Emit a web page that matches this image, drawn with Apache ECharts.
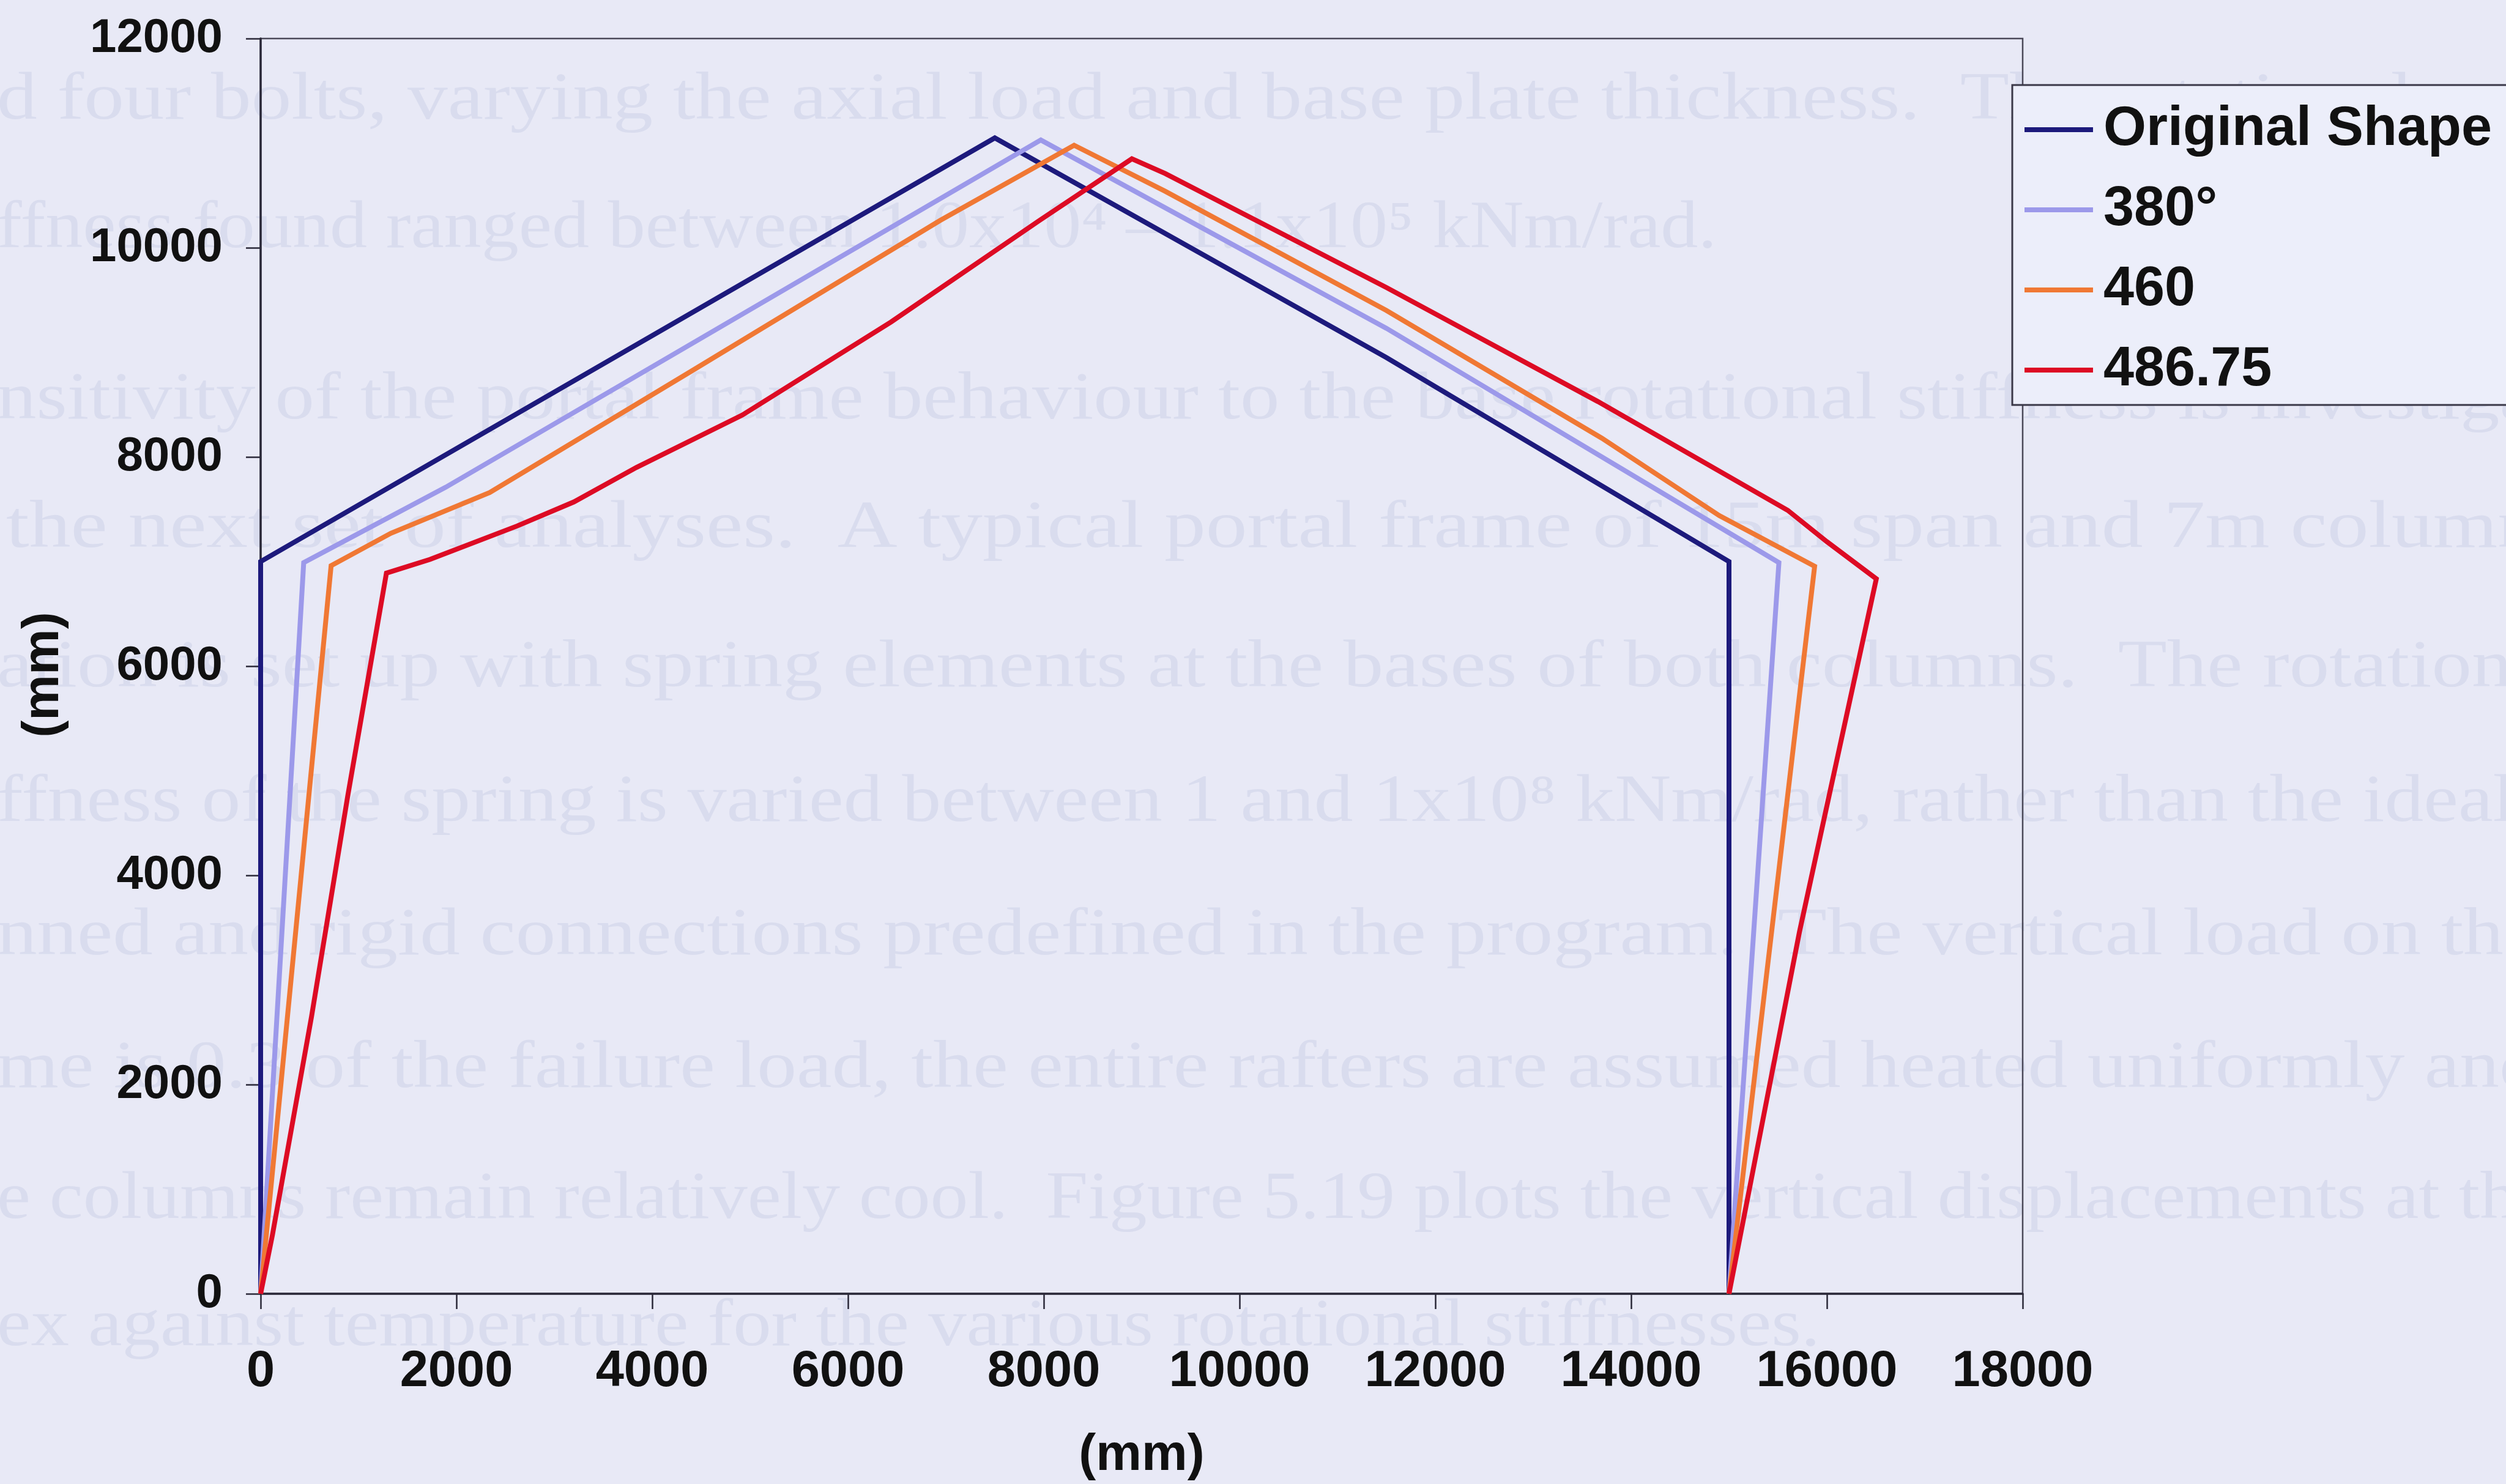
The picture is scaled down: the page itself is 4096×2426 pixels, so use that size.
<!DOCTYPE html>
<html>
<head>
<meta charset="utf-8">
<script src="https://cdn.jsdelivr.net/npm/echarts@6/dist/echarts.min.js"></script>
<style>
  html, body { margin: 0; padding: 0; background: #e8e9f6; }
  #chart { width: 4096px; height: 2426px; }
</style>
</head>
<body>
<div id="chart"></div>
<script>
// Portal frame outlines (x, y in mm): undeformed frame and deflected shapes at three rafter temperatures
const seriesNames = ['Original Shape', '380°', '460', '486.75'];
const seriesColors = ['#1d1a7c', '#9c99ea', '#f07834', '#dd0b24'];

const originalShape = [[0, 0], [0, 7000], [7500, 11050], [11500, 8950], [15000, 7000], [15000, 0]];
const shape380 = [[0, 0], [440, 6990], [1890, 7710], [7970, 11030], [11500, 9230], [15510, 6990], [15000, 0]];
const shape460 = [[0, 0], [720, 6960], [1330, 7270], [2340, 7660], [4400, 8820], [6940, 10260], [8310, 10980],
  [9240, 10540], [11500, 9400], [13700, 8180], [14900, 7440], [15875, 6955], [15000, 0]];
const shape486 = [[0, 0], [120, 560], [520, 2650], [890, 4760], [1285, 6890], [1730, 7020], [2620, 7340],
  [3200, 7570], [3840, 7900], [4920, 8400], [6440, 9290], [7955, 10260], [8900, 10850], [9240, 10710],
  [11500, 9620], [13660, 8530], [15600, 7490], [16000, 7190], [16505, 6835], [15720, 3460], [15000, 0]];
const seriesData = [originalShape, shape380, shape460, shape486];

// Axis ranges and tick spacing
const xRange = [0, 18000];
const yRange = [0, 12000];
const tickStep = 2000;
const axisNameX = '(mm)';
const axisNameY = '(mm)';

// Page text showing through behind the figure
const pageText = [
  'd four bolts, varying the axial load and base plate thickness.  The rotational',
  'ffness found ranged between 1.0x10\u2074 \u2013 1.1x10\u2075 kNm/rad.',
  'nsitivity of the portal frame behaviour to the base rotational stiffness is investigated',
  'the next set of analyses.  A typical portal frame of 15m span and 7m column',
  'ation is set up with spring elements at the bases of both columns.  The rotational',
  'ffness of the spring is varied between 1 and 1x10\u2078 kNm/rad, rather than the ideal',
  'nned and rigid connections predefined in the program.  The vertical load on the',
  'me is 0.3 of the failure load, the entire rafters are assumed heated uniformly and',
  'e columns remain relatively cool.  Figure 5.19 plots the vertical displacements at the',
  'ex against temperature for the various rotational stiffnesses.'
];
// [left, right, bottom of text box] of each page line, in px
const pageTextLayout = [
  [-5, 3944, 220], [-5, 2806, 430], [-5, 4300, 710], [10, 4150, 920], [-5, 4200, 1148],
  [-5, 4110, 1368], [-5, 4150, 1586], [-5, 4150, 1803], [-5, 4170, 2017], [-5, 2975, 2225]
];

const pageFontSize = 110;
const pageFont = pageFontSize + 'px "Liberation Serif"';
const measureCtx = document.createElement('canvas').getContext('2d');
measureCtx.font = pageFont;

const pageTextGraphics = pageText.map((t, i) => {
  const [x0, x1, bottom] = pageTextLayout[i];
  const w = measureCtx.measureText(t).width;
  return {
    type: 'text',
    x: x0,
    y: bottom,
    scaleX: (x1 - x0) / w,
    z: -10,
    silent: true,
    style: {
      text: t,
      fontFamily: 'Liberation Serif',
      fontSize: pageFontSize,
      fill: '#d9dcee',
      verticalAlign: 'bottom',
      shadowBlur: 10,
      shadowColor: '#d9dcee'
    }
  };
});

const labelFont = { fontFamily: 'Liberation Sans', fontWeight: 'bold', color: '#111111' };

const chart = echarts.init(document.getElementById('chart'), null, { renderer: 'canvas' });

chart.setOption({
  backgroundColor: '#e8e9f6',
  animation: false,
  graphic: pageTextGraphics,
  grid: {
    left: 426, top: 63, right: 790, bottom: 311,
    show: true,
    borderColor: '#4a4858',
    borderWidth: 2.5,
    backgroundColor: 'transparent',
    outerBoundsMode: 'none'
  },
  legend: {
    orient: 'vertical',
    left: 3289,
    top: 139,
    padding: [28, 40, 12, 20],
    itemGap: 41,
    itemWidth: 112,
    itemHeight: 8,
    icon: 'rect',
    backgroundColor: '#eceefa',
    borderColor: '#3a3848',
    borderWidth: 3,
    textStyle: Object.assign({ fontSize: 90, padding: [0, 0, 0, 12] }, labelFont),
    data: seriesNames
  },
  xAxis: {
    type: 'value',
    min: xRange[0], max: xRange[1], interval: tickStep,
    name: axisNameX,
    nameLocation: 'middle',
    nameGap: 223,
    nameTextStyle: Object.assign({ fontSize: 84 }, labelFont),
    axisLine: { show: true, onZero: false, lineStyle: { color: '#2a2838', width: 3.5 } },
    axisTick: { show: true, inside: false, length: 25, lineStyle: { color: '#2a2838', width: 2.5 } },
    axisLabel: Object.assign({ fontSize: 83, margin: 87, formatter: v => String(v) }, labelFont),
    splitLine: { show: false }
  },
  yAxis: {
    type: 'value',
    min: yRange[0], max: yRange[1], interval: tickStep,
    name: axisNameY,
    nameLocation: 'middle',
    nameRotate: 90,
    nameGap: 312,
    nameTextStyle: Object.assign({ fontSize: 84, padding: [0, 28, 0, 0] }, labelFont),
    axisLine: { show: true, onZero: false, lineStyle: { color: '#2a2838', width: 3.5 } },
    axisTick: { show: true, inside: false, length: 24, lineStyle: { color: '#2a2838', width: 2.5 } },
    axisLabel: Object.assign({ fontSize: 78, margin: 62, formatter: v => String(v) }, labelFont),
    splitLine: { show: false }
  },
  series: seriesNames.map((name, i) => ({
    name: name,
    type: 'line',
    data: seriesData[i],
    symbol: 'none',
    showSymbol: false,
    smooth: false,
    color: seriesColors[i],
    itemStyle: { color: seriesColors[i] },
    lineStyle: { color: seriesColors[i], width: 8, join: 'miter', miterLimit: 10 },
    z: 2 + i
  }))
});
</script>
</body>
</html>
